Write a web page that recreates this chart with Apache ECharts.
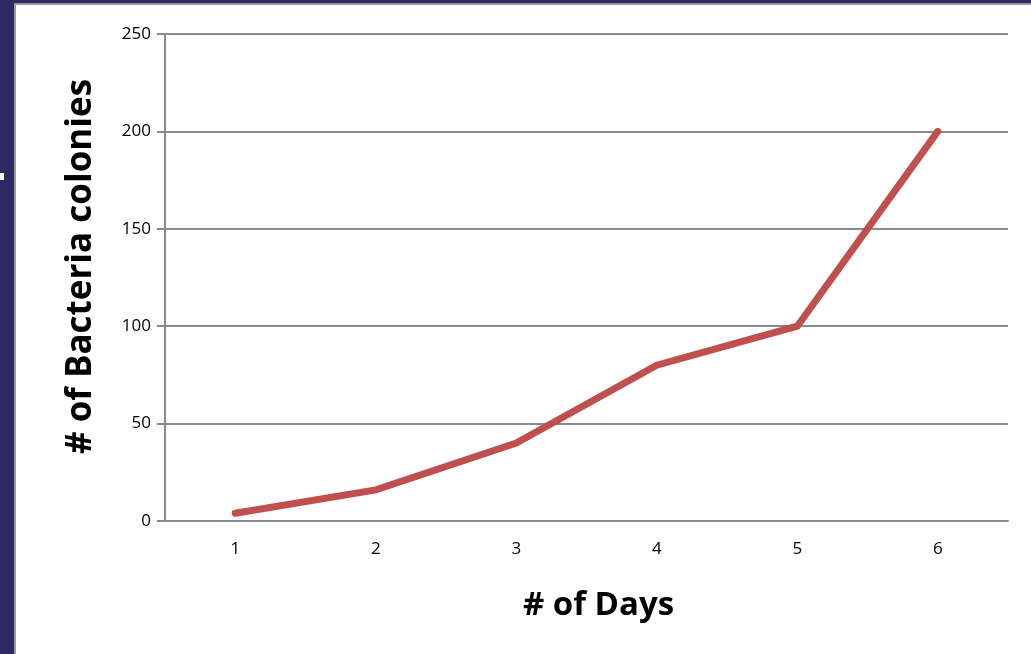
<!DOCTYPE html>
<html>
<head>
<meta charset="utf-8">
<script src="https://cdn.jsdelivr.net/npm/echarts@6/dist/echarts.min.js"></script>
<style>
  html, body { margin: 0; padding: 0; background: #2e2a62; }
  #frame {
    position: absolute; left: 14px; top: 3px; right: 0; bottom: 0;
    background: #fff; border-left: 2px solid #9a9a9a; border-top: 2px solid #9a9a9a;
  }
  #mark { position: absolute; left: 0; top: 173px; width: 4px; height: 7px; background: #fff; }
  #chart { position: absolute; left: 0; top: 0; width: 1031px; height: 654px; }
</style>
</head>
<body>
<div id="frame"></div>
<div id="mark"></div>
<div id="chart"></div>
<script>
const days = ['1', '2', '3', '4', '5', '6']
const colonies = [4, 16, 40, 80, 100, 200]
const yTicks = { min: 0, max: 250, interval: 50 }

const chart = echarts.init(document.getElementById('chart'), null, { renderer: 'canvas' })
const font = '"Open Sans", "DejaVu Sans", sans-serif'

chart.setOption({
  backgroundColor: 'transparent',
  animation: false,
  grid: { left: 165, top: 34, right: 23, bottom: 133 },
  xAxis: {
    type: 'category',
    data: days,
    boundaryGap: true,
    name: '# of Days',
    nameLocation: 'middle',
    nameGap: 68,
    nameTextStyle: { fontFamily: font, fontSize: 33, fontWeight: 'bold', color: '#000', padding: [0, 0, 0, 24] },
    axisLine: { lineStyle: { color: '#8a8a8a', width: 2 } },
    axisTick: { show: false },
    axisLabel: { fontFamily: font, fontSize: 17, color: '#000', margin: 20 }
  },
  yAxis: {
    type: 'value',
    min: yTicks.min,
    max: yTicks.max,
    interval: yTicks.interval,
    name: '# of Bacteria colonies',
    nameLocation: 'middle',
    nameGap: 66,
    nameTextStyle: { fontFamily: font, fontSize: 35, fontWeight: 'bold', color: '#000', padding: [0, 0, 0, 22] },
    axisLine: { show: true, lineStyle: { color: '#8a8a8a', width: 2 } },
    axisTick: { show: true, length: 8, lineStyle: { color: '#8a8a8a', width: 2 } },
    axisLabel: { fontFamily: font, fontSize: 17, color: '#000', margin: 14 },
    splitLine: { lineStyle: { color: '#8a8a8a', width: 2 } }
  },
  series: [{
    type: 'line',
    data: colonies,
    showSymbol: false,
    symbol: 'none',
    lineStyle: { color: '#c0504d', width: 7, cap: 'round', join: 'miter' }
  }]
})
</script>
</body>
</html>
